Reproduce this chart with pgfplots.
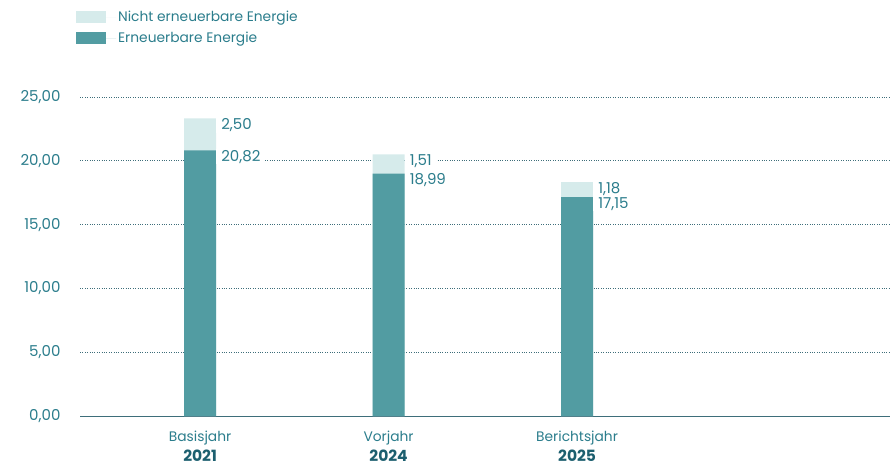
\documentclass[border=0pt]{standalone}
\usepackage{fontspec}
\setmainfont{Poppins}
\usepackage{pgfplots}
\pgfplotsset{compat=1.18}
\definecolor{dark}{HTML}{529CA2}
\definecolor{light}{HTML}{D6EBEB}
\definecolor{txt}{HTML}{2B7D8C}
\definecolor{yr}{HTML}{1C5F6F}
\definecolor{gridc}{HTML}{3E6E7A}

\begin{document}
\begin{tikzpicture}
	\begin{axis}[
		scale only axis,
		width=810pt, height=319pt,
		ybar, bar width=32pt, bar shift=0pt,
		xmin=-0.637, xmax=3.66,
		ymin=0, ymax=25,
		ytick={0,5,10,15,20,25},
		xtick={0,1,2},
		xticklabels={{Basisjahr\\\fontsize{15.5}{18}\selectfont\textbf{\color{yr}2021}},{Vorjahr\\\fontsize{15.5}{18}\selectfont\textbf{\color{yr}2024}},{Berichtsjahr\\\fontsize{15.5}{18}\selectfont\textbf{\color{yr}2025}}},
		xticklabel style={align=center, font=\fontsize{13.8}{20}\selectfont, text=txt, yshift=-11pt},
		yticklabel style={font=\fontsize{15}{17}\selectfont, text=txt, xshift=-16pt},
		/pgf/number format/.cd, use comma, fixed, fixed zerofill, precision=2, assume math mode=true,
		/pgfplots/.cd,
		axis x line*=bottom, axis y line*=left,
		y axis line style={draw=none},
		x axis line style={draw=gridc, line width=0.8pt, -},
		major tick length=0pt,
		ymajorgrids, grid style={dotted, gridc, line width=0.6pt},
		point meta=explicit,
		nodes near coords,
		every node near coord/.append style={anchor=west, xshift=16pt, yshift=-6.5pt, text=txt, fill=white,
			inner xsep=5pt, inner ysep=1pt, font=\fontsize{15}{17}\selectfont},
		legend style={at={(rel axis cs:-0.005,1.275)}, anchor=north west, draw=none, fill=none,
			font=\fontsize{13.8}{15}\selectfont, text=txt, row sep=5pt, inner sep=0pt},
		legend cell align=left,
		legend image code/.code={\path[#1, draw=none] (0pt,-6pt) rectangle (30pt,6pt); \path (0pt,0pt) -- (40pt,0pt);},
		]
		\addplot[fill=light, draw=none] coordinates {(0,23.32) [2.50] (1,20.50) [1.51] (2,18.33) [1.18]};
		\addplot[fill=dark, draw=none] coordinates {(0,20.82) [20.82] (1,18.99) [18.99] (2,17.15) [17.15]};
		\legend{Nicht erneuerbare Energie, Erneuerbare Energie}
	\end{axis}
	\pgfresetboundingbox
	\useasboundingbox (-80pt,-49pt) rectangle (810pt,416pt);
\end{tikzpicture}
\end{document}
